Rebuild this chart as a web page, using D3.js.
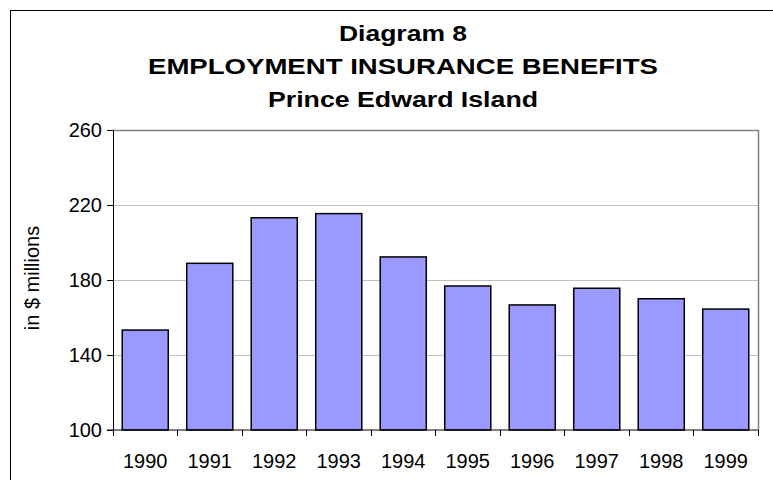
<!DOCTYPE html>
<html>
<head>
<meta charset="utf-8">
<script src="https://cdn.jsdelivr.net/npm/d3@7"></script>
<style>
  body { margin: 0; background: #fff; }
  svg { display: block; font-family: "Liberation Sans", Arial, sans-serif; }
</style>
</head>
<body>
<svg id="chart" width="773" height="480"></svg>
<script>
// Data
const years = ["1990", "1991", "1992", "1993", "1994", "1995", "1996", "1997", "1998", "1999"];
const benefits = [153.3, 188.9, 213.2, 215.4, 192.3, 176.8, 166.7, 175.6, 170.0, 164.5];
const yTicks = [100, 140, 180, 220, 260];
const titleLines = ["Diagram 8", "EMPLOYMENT INSURANCE BENEFITS", "Prince Edward Island"];
const yLabel = "in $ millions";

const svg = d3.select("#chart");
const plot = { left: 113, right: 758, top: 130, bottom: 430 };

// outer chart frame (runs off the right/bottom edge)
svg.append("rect")
    .attr("x", 10.5).attr("y", 10.5)
    .attr("width", 800).attr("height", 500)
    .attr("fill", "white")
    .attr("stroke", "black");

// Title
const titleWidths = [128, 510, 270];
svg.append("g")
    .selectAll("text")
    .data(titleLines)
    .join("text")
    .attr("x", 403)
    .attr("y", (d, i) => 41 + i * 33)
    .attr("text-anchor", "middle")
    .attr("font-size", 22)
    .attr("font-weight", "bold")
    .attr("textLength", (d, i) => titleWidths[i])
    .attr("lengthAdjust", "spacingAndGlyphs")
    .text(d => d);

const x = d3.scaleBand()
    .domain(years)
    .range([plot.left, plot.right])
    .paddingInner(0.2857)
    .paddingOuter(0.1429);

const y = d3.scaleLinear()
    .domain([100, 260])
    .range([plot.bottom, plot.top]);

// gridlines
svg.append("g")
    .selectAll("line")
    .data(yTicks.slice(1, -1))
    .join("line")
    .attr("x1", plot.left).attr("x2", plot.right)
    .attr("y1", d => Math.round(y(d)) + 0.5)
    .attr("y2", d => Math.round(y(d)) + 0.5)
    .attr("stroke", "#c0c0c0");

// plot area top and right border
svg.append("path")
    .attr("d", `M${plot.left},${plot.top + 0.5}H${plot.right + 0.5}V${plot.bottom}`)
    .attr("fill", "none")
    .attr("stroke", "#808080")
    .attr("stroke-width", 1.5);

// bars
svg.append("g")
    .selectAll("rect")
    .data(benefits)
    .join("rect")
    .attr("x", (d, i) => x(years[i]))
    .attr("y", d => y(d))
    .attr("width", x.bandwidth())
    .attr("height", d => y(100) - y(d))
    .attr("fill", "#9999ff")
    .attr("stroke", "black")
    .attr("stroke-width", 1.5);

// y axis
const yAxis = svg.append("g")
    .attr("transform", `translate(${plot.left},0)`)
    .call(d3.axisLeft(y).tickValues(yTicks).tickSize(6).tickPadding(5).tickSizeOuter(0));
yAxis.select(".domain").attr("stroke", "black");
yAxis.selectAll("line").attr("stroke", "black");
yAxis.selectAll("text")
    .attr("font-size", 20)
    .attr("font-family", "Liberation Sans, Arial, sans-serif")
    .attr("fill", "black");

// x axis: ticks sit between the categories
const xAxis = svg.append("g")
    .attr("transform", `translate(0,${plot.bottom})`);
xAxis.append("line")
    .attr("x1", plot.left - 6).attr("x2", plot.right)
    .attr("stroke", "black");
const step = x.step();
xAxis.selectAll(".tick-mark")
    .data(d3.range(years.length + 1))
    .join("line")
    .attr("class", "tick-mark")
    .attr("x1", i => Math.round(plot.left + i * step) + 0.5)
    .attr("x2", i => Math.round(plot.left + i * step) + 0.5)
    .attr("y1", 0).attr("y2", 6)
    .attr("stroke", "black");
xAxis.selectAll(".year")
    .data(years)
    .join("text")
    .attr("class", "year")
    .attr("x", d => x(d) + x.bandwidth() / 2)
    .attr("y", 38)
    .attr("text-anchor", "middle")
    .attr("font-size", 20)
    .text(d => d);

// y axis title
svg.append("text")
    .attr("transform", "translate(39,278) rotate(-90)")
    .attr("text-anchor", "middle")
    .attr("font-size", 20)
    .text(yLabel);
</script>
</body>
</html>
